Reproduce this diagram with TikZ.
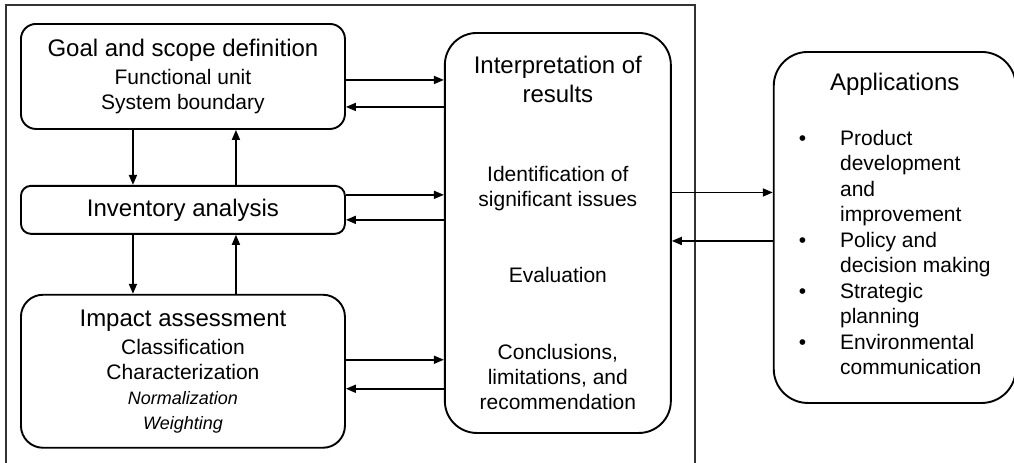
\documentclass[tikz,border=0pt]{standalone}
\usepackage{fontspec}
\setmainfont{Liberation Sans}
\usetikzlibrary{arrows.meta,positioning,calc}
\newcommand{\hdsize}{\fontsize{12}{14.5}\selectfont}
\newcommand{\bdsize}{\fontsize{10.5}{12.5}\selectfont}
\newcommand{\smsize}{\fontsize{9}{11}\selectfont}

\begin{document}
\begin{tikzpicture}[->,>={Triangle[length=5pt,width=4pt]}, line width=0.85pt,
    stage/.style={draw, line width=0.95pt, align=center, inner sep=0pt,
      font=\bdsize, minimum width=162pt}]
  \useasboundingbox (0,0) rectangle (507pt,-231pt);
  % left column
  \node[stage, rounded corners=7.5pt, minimum height=52.5pt, anchor=north west] (goal) at (10pt,-11.5pt)
    {{\hdsize Goal and scope definition}\\[1.5pt]Functional unit\\System boundary};
  \node[stage, rounded corners=5pt, minimum height=24pt, below=27.5pt of goal] (inv)
    {{\hdsize Inventory analysis}};
  \node[stage, rounded corners=11pt, minimum height=76.5pt, below=29.5pt of inv] (impact)
    {{\hdsize Impact assessment}\\[1.5pt]Classification\\Characterization\\
     {\smsize\itshape Normalization}\\{\smsize\itshape Weighting}};
  % interpretation and applications
  \node[stage, rounded corners=16pt, minimum width=113pt, minimum height=200pt,
    below right=4.5pt and 49pt of goal.north east] (interp)
    {{\hdsize Interpretation of}\\[2pt]{\hdsize results}\\[27pt]Identification of\\
     significant issues\\[25.5pt]Evaluation\\[26pt]Conclusions,\\limitations, and\\recommendation};
  \node[stage, rounded corners=17pt, minimum width=121pt, minimum height=175.5pt,
    below right=9.5pt and 50.5pt of interp.north east] (app)
    {{\hdsize Applications}\\[15pt]
     \fontsize{10.5}{12.75}\selectfont
     \begin{tabular}[t]{@{}l@{\hspace{17pt}}l@{}}
       \textbullet & Product\\ & development\\ & and\\ & improvement\\
       \textbullet & Policy and\\ & decision making\\
       \textbullet & Strategic\\ & planning\\
       \textbullet & Environmental\\ & communication
     \end{tabular}};
  % frame round the LCA stages
  \draw[-, line width=0.75pt, black!80] ($(goal.north west)+(-7pt,9pt)$) rectangle ($(impact.south -| interp.east)+(11.5pt,-8.5pt)$);
  % vertical links
  \draw ($(goal.south)+(-25pt,0)$) -- ($(inv.north)+(-25pt,0)$);
  \draw ($(inv.north)+(26.5pt,0)$) -- ($(goal.south)+(26.5pt,0)$);
  \draw ($(inv.south)+(-25pt,0)$) -- ($(impact.north)+(-25pt,0)$);
  \draw ($(impact.north)+(26.5pt,0)$) -- ($(inv.south)+(26.5pt,0)$);
  % links to interpretation
  \draw ($(goal.east)+(0,-1.75pt)$) -- ($(goal.east -| interp.west)+(0,-1.75pt)$);
  \draw ($(goal.east -| interp.west)+(0,-15.25pt)$) -- ($(goal.east)+(0,-15.25pt)$);
  \draw ($(inv.east)+(0,7.5pt)$) -- ($(inv.east -| interp.west)+(0,7.5pt)$);
  \draw ($(inv.east -| interp.west)+(0,-5pt)$) -- ($(inv.east)+(0,-5pt)$);
  \draw ($(impact.east)+(0,5.75pt)$) -- ($(impact.east -| interp.west)+(0,5.75pt)$);
  \draw ($(impact.east -| interp.west)+(0,-8.75pt)$) -- ($(impact.east)+(0,-8.75pt)$);
  % links to applications
  \draw ($(interp.east)+(0,20.25pt)$) -- ($(interp.east -| app.west)+(0,20.25pt)$);
  \draw ($(interp.east -| app.west)+(0,-4pt)$) -- ($(interp.east)+(0,-4pt)$);
\end{tikzpicture}
\end{document}
